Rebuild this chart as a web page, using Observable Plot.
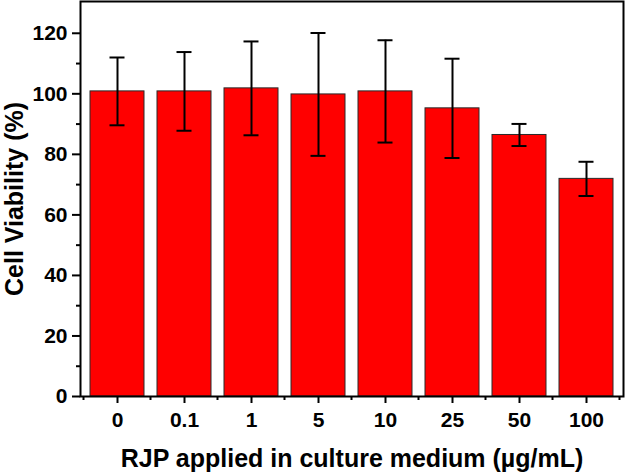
<!DOCTYPE html>
<html>
<head>
<meta charset="utf-8">
<script src="https://cdn.jsdelivr.net/npm/d3@7"></script>
<script src="https://cdn.jsdelivr.net/npm/@observablehq/plot@0.6"></script>
<style>
  html, body { margin: 0; padding: 0; background: #fff; }
  svg { display: block; }
</style>
</head>
<body>
<div id="chart"></div>
<script>
const categories = ["0", "0.1", "1", "5", "10", "25", "50", "100"];
const viability = [100.8, 100.8, 101.8, 99.8, 100.8, 95.2, 86.4, 71.9];
const sd = [11.2, 13.0, 15.5, 20.3, 16.9, 16.4, 3.65, 5.65];
const yTicks = [0, 20, 40, 60, 80, 100, 120];
const yMinorTicks = [10, 30, 50, 70, 90, 110];
const xTitle = "RJP applied in culture medium (µg/mL)";
const yTitle = "Cell Viability (%)";

const data = categories.map((c, i) => ({
  conc: c,
  v: viability[i],
  lo: viability[i] - sd[i],
  hi: viability[i] + sd[i]
}));

const font = "'Liberation Sans', Arial, Helvetica, sans-serif";

// minor ticks on the x axis at category boundaries, placed through the x scale
function minorXTicks(index, scales) {
  const x = scales.x, y = scales.y;
  const bw = x.bandwidth ? x.bandwidth() : 0;
  const step = x.step ? x.step() : (x(categories[1]) - x(categories[0]));
  const centers = categories.map(c => x(c) + bw / 2);
  const bounds = [centers[0] - step / 2, ...centers.map(c => c + step / 2)];
  const y0 = y(0);
  const g = d3.create("svg:g").attr("stroke", "black").attr("stroke-width", 2);
  for (const b of bounds) {
    g.append("line").attr("x1", b).attr("x2", b).attr("y1", y0).attr("y2", y0 + 4);
  }
  return g.node();
}

const chart = Plot.plot({
  width: 625,
  height: 474,
  marginLeft: 80,
  marginRight: 2,
  marginTop: 1,
  marginBottom: 78,
  style: { fontFamily: font, fontWeight: "bold", fontSize: "21px", color: "black", background: "white" },
  x: { domain: categories, paddingInner: 0.2, paddingOuter: 0.1, label: null },
  y: { domain: [0, 130.5], label: null },
  marks: [
    Plot.barY(data, { x: "conc", y: "v", fill: "#ff0000", stroke: "#2a2a2a", strokeWidth: 1 }),
    Plot.ruleX(data, { x: "conc", y1: "lo", y2: "hi", stroke: "black", strokeWidth: 2 }),
    Plot.tickY(data, { x: "conc", y: "lo", stroke: "black", strokeWidth: 2, insetLeft: 19.5, insetRight: 19.5 }),
    Plot.tickY(data, { x: "conc", y: "hi", stroke: "black", strokeWidth: 2, insetLeft: 19.5, insetRight: 19.5 }),
    Plot.frame({ stroke: "black", strokeWidth: 2 }),
    Plot.axisY({ ticks: yTicks, tickSize: 8, tickPadding: 5, strokeWidth: 2, fontSize: 21, fontWeight: "bold", tickFormat: d => String(d), label: null }),
    Plot.axisY({ ticks: yMinorTicks, tickSize: 4, strokeWidth: 2, tickFormat: () => "", label: null }),
    Plot.axisX({ tickSize: 7, tickPadding: 9, strokeWidth: 2, fontSize: 21, fontWeight: "bold", label: null }),
    minorXTicks,
    Plot.text([xTitle], { text: d => d, frameAnchor: "bottom", textAnchor: "middle", dy: 62, lineAnchor: "middle", fontSize: 25, fontWeight: "bold", fill: "black", letterSpacing: "0.5px" }),
    Plot.text([yTitle], { text: d => d, frameAnchor: "left", textAnchor: "middle", dx: -66, rotate: -90, lineAnchor: "middle", fontSize: 25, fontWeight: "bold", fill: "black", letterSpacing: "0.5px" })
  ]
});

document.getElementById("chart").appendChild(chart);
</script>
</body>
</html>
